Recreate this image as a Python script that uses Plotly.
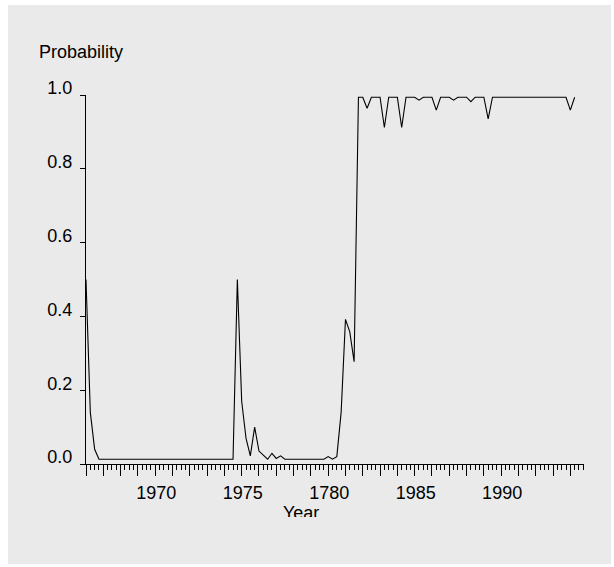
import pandas as pd
import plotly.graph_objects as go

# Quarterly regime probability, 1966Q1 - 1994Q2
quarters = pd.period_range("1966Q1", "1994Q2", freq="Q")
prob = [
    0.500, 0.140, 0.040, 0.013, 0.013, 0.013, 0.013, 0.013, 0.013, 0.013,
    0.013, 0.013, 0.013, 0.013, 0.013, 0.013, 0.013, 0.013, 0.013, 0.013,
    0.013, 0.013, 0.013, 0.013, 0.013, 0.013, 0.013, 0.013, 0.013, 0.013,
    0.013, 0.013, 0.013, 0.013, 0.013, 0.500, 0.170, 0.070, 0.022, 0.100,
    0.035, 0.024, 0.013, 0.029, 0.015, 0.022, 0.013, 0.013, 0.013, 0.013,
    0.013, 0.013, 0.013, 0.013, 0.013, 0.013, 0.020, 0.013, 0.020, 0.140,
    0.392, 0.358, 0.277, 0.994, 0.994, 0.964, 0.994, 0.994, 0.994, 0.912,
    0.994, 0.994, 0.994, 0.912, 0.994, 0.994, 0.994, 0.986, 0.994, 0.994,
    0.994, 0.959, 0.994, 0.994, 0.994, 0.986, 0.994, 0.994, 0.994, 0.982,
    0.994, 0.994, 0.994, 0.935, 0.994, 0.994, 0.994, 0.994, 0.994, 0.994,
    0.994, 0.994, 0.994, 0.994, 0.994, 0.994, 0.994, 0.994, 0.994, 0.994,
    0.994, 0.994, 0.959, 0.994,
]

# Year axis: a major tick every year, labels every five years
year_ticks = list(range(1966, 1995))
year_labels = {1970: "1970", 1975: "1975", 1980: "1780", 1985: "1985", 1990: "1990"}
prob_ticks = [0.0, 0.2, 0.4, 0.6, 0.8, 1.0]

x_years = [q.year + (q.quarter - 1) / 4 for q in quarters]

FONT = "Arial, Liberation Sans, sans-serif"
BG = "#eaeaea"
BOTTOM_SPLIT = 53 / 422  # share of the plotting height below the x axis line

fig = go.Figure()
fig.add_trace(go.Scatter(
    x=x_years, y=prob, mode="lines",
    line=dict(color="#000000", width=1.1),
    showlegend=False, hoverinfo="x+y",
))

# x-axis title placed in a strip under the axis so it is cut at the strip edge
fig.add_trace(go.Scatter(
    x=[0.432], y=[0.05], xaxis="x2", yaxis="y2",
    mode="text", text=["Year"],
    textfont=dict(family=FONT, size=18, color="#000000"),
    textposition="middle center", cliponaxis=True,
    showlegend=False, hoverinfo="skip",
))

fig.update_layout(
    width=614, height=567, autosize=False,
    margin=dict(l=86, r=30, t=95, b=50, pad=0),
    paper_bgcolor="#ffffff",
    plot_bgcolor="rgba(0,0,0,0)",
    font=dict(family=FONT, size=18, color="#000000"),
    xaxis=dict(
        domain=[0, 1], anchor="y",
        range=[1966, 1994.79],
        tickvals=year_ticks,
        ticktext=[year_labels.get(y, "") for y in year_ticks],
        ticks="outside", ticklen=11, tickwidth=1, tickcolor="#000000",
        minor=dict(dtick=0.25, tick0=1966, ticks="outside", ticklen=5,
                   tickwidth=1, tickcolor="#000000", showgrid=False),
        showline=True, linecolor="#000000", linewidth=1,
        showgrid=False, zeroline=False,
        tickfont=dict(family=FONT, size=18, color="#000000"),
        ticklabelstandoff=1, ticklabelshift=1,
    ),
    yaxis=dict(
        domain=[BOTTOM_SPLIT, 1], anchor="x",
        range=[0, 1],
        tickvals=prob_ticks,
        ticktext=[f"{v:.1f}" for v in prob_ticks],
        ticks="outside", ticklen=5, tickwidth=1, tickcolor="#000000",
        showline=True, linecolor="#000000", linewidth=1,
        showgrid=False, zeroline=False,
        tickfont=dict(family=FONT, size=18, color="#000000"),
        ticklabelshift=-7, ticklabelstandoff=4,
    ),
    xaxis2=dict(domain=[0, 1], anchor="y2", range=[0, 1], visible=False),
    yaxis2=dict(domain=[0, BOTTOM_SPLIT], anchor="x2", range=[0, 1], visible=False),
    shapes=[dict(
        type="rect", xref="paper", yref="paper", layer="below",
        x0=(8 - 86) / 498, x1=(611 - 86) / 498,
        y0=(517 - 564) / 422, y1=(517 - 5) / 422,
        fillcolor=BG, line=dict(width=0),
    )],
    annotations=[dict(
        text="Probability", xref="paper", yref="paper",
        x=(37 - 86) / 498, y=(517 - 52) / 422,
        xanchor="left", yanchor="middle", showarrow=False,
        font=dict(family=FONT, size=18, color="#000000"),
    )],
)

fig.write_html("out.html")
